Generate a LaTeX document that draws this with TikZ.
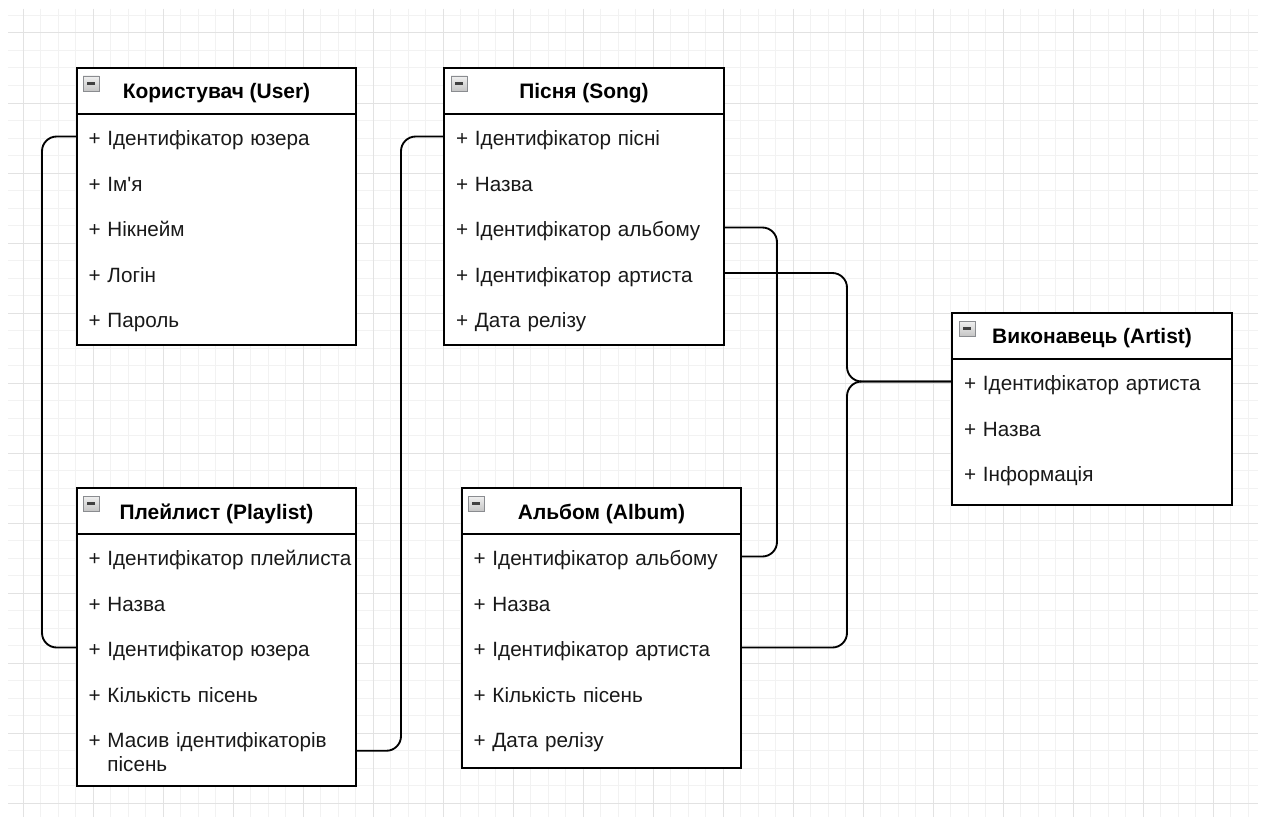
\documentclass[tikz,border=0pt]{standalone}
\usepackage{fontspec}
\setmainfont{Liberation Sans}
\usepackage{xcolor}
\definecolor{gridminor}{RGB}{242,242,242}
\definecolor{gridmajor}{RGB}{226,226,226}
\definecolor{btnline}{RGB}{138,140,144}
\definecolor{itemtext}{RGB}{25,25,25}

\tikzset{
  classbox/.style={draw=black, fill=white, line width=1.5pt},
  classtitle/.style={font=\fontsize{15.7}{18}\selectfont\bfseries, text=black},
  attr/.style={minimum width=210pt, minimum height=34.125pt, inner xsep=9pt, inner ysep=0pt,
    text width=192pt, align=left, text height=17pt, text depth=3.5pt,
    font=\fontsize{15.5}{18}\selectfont, text=itemtext},
  link/.style={line width=1.4pt, rounded corners=11pt},
}
\newcommand{\collapsebtn}[2]{%
  \draw[btnline, top color=gray!12, bottom color=gray!45, line width=0.7pt] (#1,#2) rectangle ++(16,15);
  \draw[black!75, line width=1.6pt] (#1+4,#2+7.5) -- ++(8,0);}

\begin{document}
\begin{tikzpicture}[x=0.75pt,y=0.75pt,yscale=-1,xscale=1]
\useasboundingbox[fill=white] (0,0) rectangle (1262,817);

%Grid
\foreach \gx in {0,...,70} \draw[gridminor, line width=0.75pt] ({23+17.5*\gx},9) -- ({23+17.5*\gx},817);
\foreach \gy in {0,...,45} \draw[gridminor, line width=0.75pt] (8,{15.5+17.5*\gy}) -- (1258,{15.5+17.5*\gy});
\foreach \gx in {0,...,17} \draw[gridmajor, line width=0.75pt] ({23+70*\gx},9) -- ({23+70*\gx},817);
\foreach \gy in {0,...,11} \draw[gridmajor, line width=0.75pt] (8,{33+70*\gy}) -- (1258,{33+70*\gy});

%Shape: Rectangle (User)
\draw[classbox] (77,68) rectangle (356,345);
\draw[line width=1.5pt] (77,113.5) -- (356,113.5);
\collapsebtn{83}{76}
% Text Node
\draw (216.5,93.5) node [classtitle] (user) {Користувач (User)};
\draw (216.5,136.5) node [attr] (u1) {+ Ідентифікатор юзера};
\draw (216.5,182) node [attr] (u2) {+ Ім\textquotesingle я};
\draw (216.5,227.5) node [attr] (u3) {+ Нікнейм};
\draw (216.5,273) node [attr] (u4) {+ Логін};
\draw (216.5,318.5) node [attr] (u5) {+ Пароль};

%Shape: Rectangle (Song)
\draw[classbox] (444,68) rectangle (724,345);
\draw[line width=1.5pt] (444,113.5) -- (724,113.5);
\collapsebtn{451}{76}
% Text Node
\draw (584,93.5) node [classtitle] (song) {Пісня (Song)};
\draw (584,136.5) node [attr] (s1) {+ Ідентифікатор пісні};
\draw (584,182) node [attr] (s2) {+ Назва};
\draw (584,227.5) node [attr] (s3) {+ Ідентифікатор альбому};
\draw (584,273) node [attr] (s4) {+ Ідентифікатор артиста};
\draw (584,318.5) node [attr] (s5) {+ Дата релізу};

%Shape: Rectangle (Artist)
\draw[classbox] (952,313) rectangle (1232,505);
\draw[line width=1.5pt] (952,358.5) -- (1232,358.5);
\collapsebtn{959}{321}
% Text Node
\draw (1092,338.5) node [classtitle] (artist) {Виконавець (Artist)};
\draw (1092,381.5) node [attr] (a1) {+ Ідентифікатор артиста};
\draw (1092,427) node [attr] (a2) {+ Назва};
\draw (1092,472.5) node [attr] (a3) {+ Інформація};

%Shape: Rectangle (Playlist)
\draw[classbox] (77,488) rectangle (356,786);
\draw[line width=1.5pt] (77,533.5) -- (356,533.5);
\collapsebtn{83}{496}
% Text Node
\draw (216.5,513.5) node [classtitle] (playlist) {Плейлист (Playlist)};
\draw (216.5,556.5) node [attr] (p1) {\mbox{+ Ідентифікатор плейлиста}};
\draw (216.5,602) node [attr] (p2) {+ Назва};
\draw (216.5,647.5) node [attr] (p3) {+ Ідентифікатор юзера};
\draw (216.5,693) node [attr] (p4) {+ Кількість пісень};
\draw (216.5,752.5) node [attr, minimum height=53pt, text height=, text depth=] (p5) {+ Масив ідентифікаторів\\\phantom{+ }пісень};

%Shape: Rectangle (Album)
\draw[classbox] (462,488) rectangle (741,768);
\draw[line width=1.5pt] (462,533.5) -- (741,533.5);
\collapsebtn{468}{496}
% Text Node
\draw (601.5,513.5) node [classtitle] (album) {Альбом (Album)};
\draw (601.5,556.5) node [attr] (al1) {+ Ідентифікатор альбому};
\draw (601.5,602) node [attr] (al2) {+ Назва};
\draw (601.5,647.5) node [attr] (al3) {+ Ідентифікатор артиста};
\draw (601.5,693) node [attr] (al4) {+ Кількість пісень};
\draw (601.5,738.5) node [attr] (al5) {+ Дата релізу};

%Straight Lines
\coordinate (bendU) at (42,647.5);
\coordinate (bendP) at (401,136.5);
\coordinate (bendS) at (777,556.5);
\coordinate (bendA) at (847,381.5);
\draw[link] (u1.west) -| (bendU) -- (p3.west);
\draw[link] ([yshift=-1.3pt]p5.east) -| (bendP) -- (s1.west);
\draw[link] (s3.east) -| (bendS) -- (al1.east);
\draw[link] (s4.east) -| (bendA) -- (a1.west);
\draw[link] (al3.east) -| (bendA) -- (a1.west);

\end{tikzpicture}
\end{document}
